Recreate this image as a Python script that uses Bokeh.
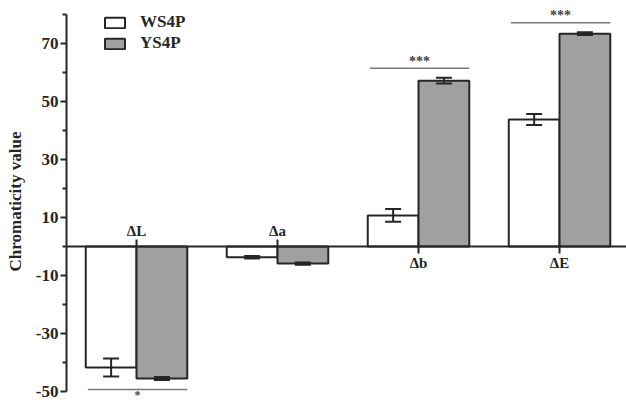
from bokeh.plotting import figure
from bokeh.models import (ColumnDataSource, Range1d, FixedTicker, Whisker, TeeHead,
                          Legend, LegendItem, Span)
from bokeh.embed import file_html
from bokeh.resources import INLINE

categories = ["ΔL", "Δa", "Δb", "ΔE"]
series = ["WS4P", "YS4P"]
ws4p = [-41.7, -3.7, 10.7, 43.8]
ws4p_err = [3.1, 0.4, 2.2, 1.9]
ys4p = [-45.5, -5.9, 57.2, 73.4]
ys4p_err = [0.5, 0.4, 1.0, 0.5]
signif = ["*", "", "***", "***"]
major_ticks = [-50, -30, -10, 10, 30, 50, 70]
minor_ticks = [-40, -20, 0, 20, 40, 60, 80]

FONT = "Liberation Serif"
DARK = "#262626"
GRAY = "#a0a0a0"
BW = 0.36
W, H = 626, 402

idx = list(range(1, len(categories) + 1))

p = figure(width=W, height=H, output_backend="svg", toolbar_location=None,
           x_range=Range1d(0.5035, 4.475), y_range=Range1d(-53.79, 84.83),
           x_axis_location=None, min_border_left=66, min_border_right=0,
           min_border_top=0, min_border_bottom=0)
p.outline_line_color = None
p.grid.grid_line_color = None
p.background_fill_color = "white"
p.border_fill_color = "white"

# zero line
p.add_layout(Span(location=0, dimension="width", line_color=DARK, line_width=2))

src_w = ColumnDataSource(dict(x=[i - BW / 2 for i in idx], top=ws4p,
                              lower=[v - e for v, e in zip(ws4p, ws4p_err)],
                              upper=[v + e for v, e in zip(ws4p, ws4p_err)]))
src_y = ColumnDataSource(dict(x=[i + BW / 2 for i in idx], top=ys4p,
                              lower=[v - e for v, e in zip(ys4p, ys4p_err)],
                              upper=[v + e for v, e in zip(ys4p, ys4p_err)]))

r_w = p.vbar(x="x", top="top", bottom=0, width=BW, source=src_w,
             fill_color="white", line_color=DARK, line_width=2)
r_y = p.vbar(x="x", top="top", bottom=0, width=BW, source=src_y,
             fill_color=GRAY, line_color=DARK, line_width=2)

for src in (src_w, src_y):
    p.add_layout(Whisker(base="x", upper="upper", lower="lower", source=src,
                         level="annotation", line_color=DARK, line_width=2,
                         upper_head=TeeHead(size=16, line_color=DARK, line_width=2),
                         lower_head=TeeHead(size=16, line_color=DARK, line_width=2)))

# category ticks and labels on the zero line
sign = [1 if max(a, b) > 0 else -1 for a, b in zip(ws4p, ys4p)]
tick_src = ColumnDataSource(dict(x=idx, y0=[0] * len(idx), y1=[-2.4 * s for s in sign],
                                 label=categories, yoff=[16 * s for s in sign]))
p.segment(x0="x", y0="y0", x1="x", y1="y1", source=tick_src, line_color=DARK, line_width=2)
p.text(x="x", y="y0", text="label", source=tick_src, y_offset="yoff",
       text_align="center", text_baseline="middle", text_font={"value": FONT},
       text_font_style="bold", text_font_size="15px", text_color=DARK)

# significance markers
sx0, sx1, sy, st, soff, sfs = [], [], [], [], [], []
for i, a, ea, b, eb, s in zip(idx, ws4p, ws4p_err, ys4p, ys4p_err, signif):
    if not s:
        continue
    if max(a, b) > 0:
        ext = max(a + ea, b + eb) + 3.3
        off = -7
        fs = "14px"
    else:
        ext = min(a - ea, b - eb) - 3.3
        off = 6
        fs = "12px"
    sx0.append(i - 0.345)
    sx1.append(i + 0.36)
    sy.append(ext)
    st.append(s)
    soff.append(off)
    sfs.append(fs)
sig_src = ColumnDataSource(dict(x0=sx0, x1=sx1, y=sy, text=st, fs=sfs,
                                xc=[(a + b) / 2 for a, b in zip(sx0, sx1)], yoff=soff))
p.segment(x0="x0", y0="y", x1="x1", y1="y", source=sig_src, line_color="#7a7a7a", line_width=1.5)
p.text(x="xc", y="y", text="text", source=sig_src, y_offset="yoff",
       text_align="center", text_baseline="middle", text_font={"value": FONT},
       text_font_style="bold", text_font_size="fs", text_color="#444444")

# y axis
ax = p.yaxis[0]
ax.ticker = FixedTicker(ticks=major_ticks, minor_ticks=minor_ticks)
ax.major_label_overrides = {t: str(t) for t in major_ticks}
ax.bounds = (-50, 80)
ax.axis_line_width = 2
ax.axis_line_color = DARK
ax.major_tick_line_width = 2
ax.major_tick_line_color = DARK
ax.minor_tick_line_width = 2
ax.minor_tick_line_color = DARK
ax.major_tick_in = 0
ax.major_tick_out = 6
ax.minor_tick_in = 0
ax.minor_tick_out = 4
ax.major_label_standoff = 2
ax.major_label_text_font = FONT
ax.major_label_text_font_style = "bold"
ax.major_label_text_font_size = "17px"
ax.major_label_text_color = DARK
ax.axis_label = "Chromaticity value"
ax.axis_label_text_font = FONT
ax.axis_label_text_font_style = "bold"
ax.axis_label_text_font_size = "17px"
ax.axis_label_text_color = DARK
ax.axis_label_standoff = 8

legend = Legend(items=[LegendItem(label=series[0], renderers=[r_w]),
                       LegendItem(label=series[1], renderers=[r_y])],
                location=(36, H - 10 - 43), glyph_width=25, glyph_height=13,
                label_height=13, label_standoff=13, spacing=1, padding=0, margin=0,
                border_line_color=None, background_fill_alpha=0,
                label_text_font=FONT, label_text_font_style="bold",
                label_text_font_size="17px", label_text_color=DARK)
p.add_layout(legend, "center")

open("out.html", "w").write(file_html(p, INLINE))
